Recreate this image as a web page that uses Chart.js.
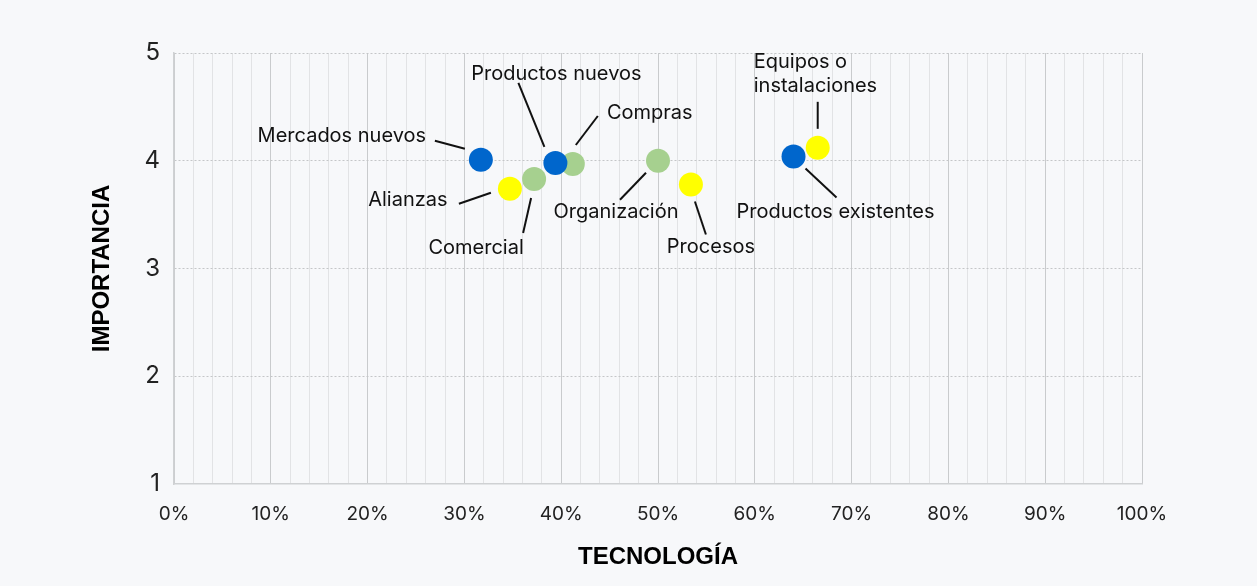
<!DOCTYPE html>
<html>
<head>
<meta charset="utf-8">
<script src="https://cdn.jsdelivr.net/npm/chart.js@4/dist/chart.umd.min.js"></script>
<style>
  html, body { margin: 0; padding: 0; background: #f7f8fa; }
  #wrap { width: 1257px; height: 586px; position: relative; }
</style>
</head>
<body>
<div id="wrap"><canvas id="chart"></canvas></div>
<script>
// Innovation types: tecnología (%) vs importancia (1-5)
const productNames = ['Mercados nuevos', 'Productos nuevos', 'Productos existentes']
const productTech = [31.7, 39.4, 64.0]
const productImportance = [4.01, 3.98, 4.04]

const processNames = ['Alianzas', 'Procesos', 'Equipos o instalaciones']
const processTech = [34.7, 53.4, 66.5]
const processImportance = [3.74, 3.78, 4.12]

const orgNames = ['Comercial', 'Compras', 'Organización']
const orgTech = [37.2, 41.2, 50.0]
const orgImportance = [3.83, 3.97, 4.00]

const xTicks = [0, 10, 20, 30, 40, 50, 60, 70, 80, 90, 100]
const yTicks = [1, 2, 3, 4, 5]

function toPoints(names, xs, ys) {
  return names.map((n, i) => ({ x: xs[i], y: ys[i], name: n }))
}

// where each label sits relative to its point (px): text centre, leader line from -> to
const labelLayout = {
  'Mercados nuevos':      { text: [[-139, -24]], line: [-46, -19, -16, -11] },
  'Productos nuevos':     { text: [[1, -89]], line: [-37, -80, -11, -16] },
  'Compras':              { text: [[77, -51]], line: [25, -48, 3, -19] },
  'Alianzas':             { text: [[-102, 11]], line: [-51, 15, -19, 4] },
  'Comercial':            { text: [[-58, 69]], line: [-11, 54, -3, 19] },
  'Organización':         { text: [[-42, 51]], line: [-38, 39, -12, 12] },
  'Procesos':             { text: [[20, 63]], line: [15, 50, 4, 17] },
  'Equipos o instalaciones': { text: [[-64, -86, 'Equipos o'], [-64, -62, 'instalaciones']], align: 'left', line: [0, -46, 0, -19] },
  'Productos existentes': { text: [[42, 56]], line: [12, 12, 43, 41] }
}

const pointLabels = {
  id: 'pointLabels',
  afterDatasetsDraw(chart) {
    const ctx = chart.ctx
    ctx.save()
    ctx.font = '20px Inter'
    ctx.fillStyle = '#111'
    ctx.strokeStyle = '#111'
    ctx.lineWidth = 2
    ctx.textBaseline = 'middle'
    chart.data.datasets.forEach((ds, di) => {
      const meta = chart.getDatasetMeta(di)
      meta.data.forEach((el, i) => {
        const name = ds.data[i].name
        const lay = labelLayout[name]
        if (!lay) return
        const l = lay.line
        ctx.beginPath()
        ctx.moveTo(el.x + l[0], el.y + l[1])
        ctx.lineTo(el.x + l[2], el.y + l[3])
        ctx.stroke()
        ctx.textAlign = lay.align || 'center'
        lay.text.forEach(t => {
          ctx.fillText(t[2] || name, el.x + t[0], el.y + t[1])
        })
      })
    })
    ctx.restore()
  }
}

new Chart(document.getElementById('chart'), {
  type: 'scatter',
  data: {
    datasets: [
      { label: 'Producto', data: toPoints(productNames, productTech, productImportance), backgroundColor: '#0066cc' },
      { label: 'Proceso', data: toPoints(processNames, processTech, processImportance), backgroundColor: '#ffff00' },
      { label: 'Organización', data: toPoints(orgNames, orgTech, orgImportance), backgroundColor: '#a6d08f' }
    ]
  },
  options: {
    responsive: true,
    maintainAspectRatio: false,
    animation: false,
    events: [],
    layout: { padding: { top: 53, right: 115, left: 0, bottom: 0 } },
    elements: { point: { radius: 12, borderWidth: 0, hoverRadius: 12 } },
    plugins: {
      legend: { display: false },
      title: { display: false },
      tooltip: { enabled: false }
    },
    scales: {
      x: {
        type: 'linear',
        min: 0,
        max: 100,
        afterFit: s => { s.height = 102 },
        afterBuildTicks: s => {
          const t = []
          for (let v = 0; v <= 100; v += 2) t.push({ value: v })
          s.ticks = t
        },
        ticks: {
          autoSkip: false,
          maxRotation: 0,
          padding: 19,
          color: '#222',
          font: { family: 'Inter', size: 19 },
          callback: v => xTicks.includes(v) ? v + '%' : ''
        },
        grid: {
          drawTicks: false,
          lineWidth: 1,
          color: c => xTicks.includes(c.tick.value) ? '#c9cbcd' : '#e2e3e5'
        },
        border: { color: '#cfd1d3', width: 1.5 },
        title: {
          display: true,
          text: 'TECNOLOGÍA',
          color: '#000',
          font: { family: 'Liberation Sans', size: 24, weight: 'bold' },
          padding: { top: 0, bottom: 14 }
        }
      },
      y: {
        type: 'linear',
        min: 1,
        max: 5,
        afterFit: s => { s.width = 174 },
        afterBuildTicks: s => { s.ticks = yTicks.map(v => ({ value: v })) },
        ticks: {
          padding: 14,
          color: '#222',
          font: { family: 'Inter', size: 24 }
        },
        grid: {
          drawTicks: false,
          lineWidth: 1,
          color: c => c.tick.value === 1 ? 'rgba(0,0,0,0)' : '#c4c6c8'
        },
        border: { color: '#cfd1d3', width: 1.5, dash: [2, 2] },
        title: {
          display: true,
          text: 'IMPORTANCIA',
          color: '#000',
          font: { family: 'Liberation Sans', size: 24, weight: 'bold' },
          padding: { top: 88, bottom: 0 }
        }
      }
    }
  },
  plugins: [pointLabels]
})
</script>
</body>
</html>
